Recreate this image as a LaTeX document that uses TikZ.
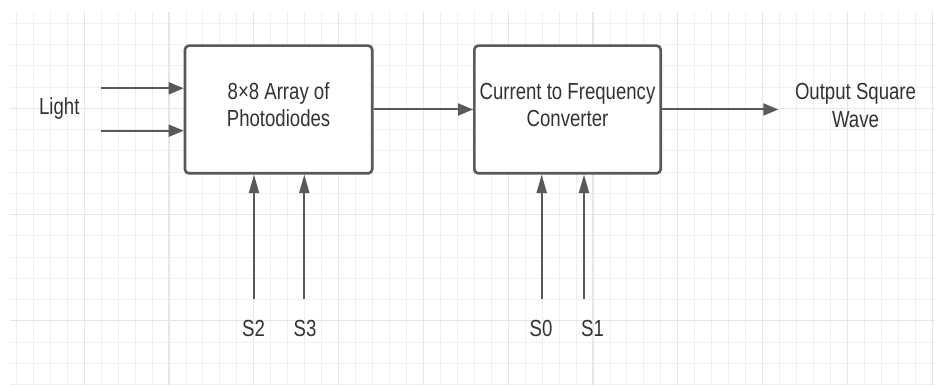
\documentclass[tikz,border=0pt]{standalone}
\usepackage{fontspec}
\setmainfont{Liberation Sans}
\usetikzlibrary{arrows.meta}
\definecolor{gminor}{HTML}{F0F0F0}
\definecolor{gmajor}{HTML}{E6E6E6}
\definecolor{edgec}{HTML}{595959}
\definecolor{txtc}{HTML}{333333}
\newcommand\vst[1]{\scalebox{1}[1.25]{#1}}
\begin{document}
\begin{tikzpicture}[x=1pt,y=-1pt,
  blockbox/.style={draw=edgec, line width=2.6pt, rounded corners=4pt, fill=white},
  harrow/.style={draw=edgec, line width=2pt, -{Triangle[length=15pt,width=12pt]}},
  varrow/.style={draw=edgec, line width=2pt, -{Triangle[length=18.5pt,width=10pt]}},
  lbl/.style={text=txtc, font=\fontsize{18.6}{22}\selectfont, inner sep=0pt, anchor=base},
]
\useasboundingbox (0,0) rectangle (935,385);
\fill[white] (0,0) rectangle (935,385);
% grid
\foreach \k in {0,...,54}
  \draw[gminor, line width=1pt] ({16.4+16.96*\k},11.7) -- ({16.4+16.96*\k},385);
\foreach \k in {0,...,17}
  \draw[gminor, line width=1pt] (10,{23.3+21.25*\k}) -- (935,{23.3+21.25*\k});
\foreach \k in {4,9,...,54}
  \draw[gmajor, line width=1.1pt] ({16.4+16.96*\k},11.7) -- ({16.4+16.96*\k},385);
\foreach \k in {4,9,14}
  \draw[gmajor, line width=1.1pt] (10,{23.3+21.25*\k}) -- (935,{23.3+21.25*\k});
% blocks
\node[blockbox, minimum width=187.3pt, minimum height=127.6pt, inner sep=0pt] (arr) at (278.6,109.5) {};
\node[blockbox, minimum width=186.4pt, minimum height=127.6pt, inner sep=0pt] (conv) at (567.5,109.5) {};
% texts
\node[lbl] (arrt1) at (278.6,99.3) {\vst{8×8 Array of}};
\node[lbl] (arrt2) at (278.6,126.7) {\vst{Photodiodes}};
\node[lbl] (convt1) at (567.5,99.3) {\vst{Current to Frequency}};
\node[lbl] (convt2) at (567.5,126.9) {\vst{Converter}};
\node[lbl] (light) at (59.3,115) {\vst{Light}};
\node[lbl] (out1) at (855.5,99.6) {\vst{Output Square}};
\node[lbl] (out2) at (855.5,127.6) {\vst{Wave}};
\node[lbl] (s2) at (253.5,336.7) {\vst{S2}};
\node[lbl] (s3) at (305,336.7) {\vst{S3}};
\node[lbl] (s0) at (541,336.7) {\vst{S0}};
\node[lbl] (s1) at (592.5,336.7) {\vst{S1}};
% connector ends
\coordinate (l1) at (101,88.3);
\coordinate (l2) at (101,130.7);
\coordinate (otip) at (778.3,109.5);
\coordinate (b2) at (254,299.3);
\coordinate (b3) at (304.3,299.3);
\coordinate (b0) at (541.7,299.3);
\coordinate (b1) at (584,299.3);
% connectors
\draw[harrow] (l1) -- (l1 -| arr.west);
\draw[harrow] (l2) -- (l2 -| arr.west);
\draw[harrow] (arr.east) -- (conv.west);
\draw[harrow] (conv.east) -- (otip);
\draw[varrow] (b2) -- (b2 |- arr.south);
\draw[varrow] (b3) -- (b3 |- arr.south);
\draw[varrow] (b0) -- (b0 |- conv.south);
\draw[varrow] (b1) -- (b1 |- conv.south);
\end{tikzpicture}
\end{document}
